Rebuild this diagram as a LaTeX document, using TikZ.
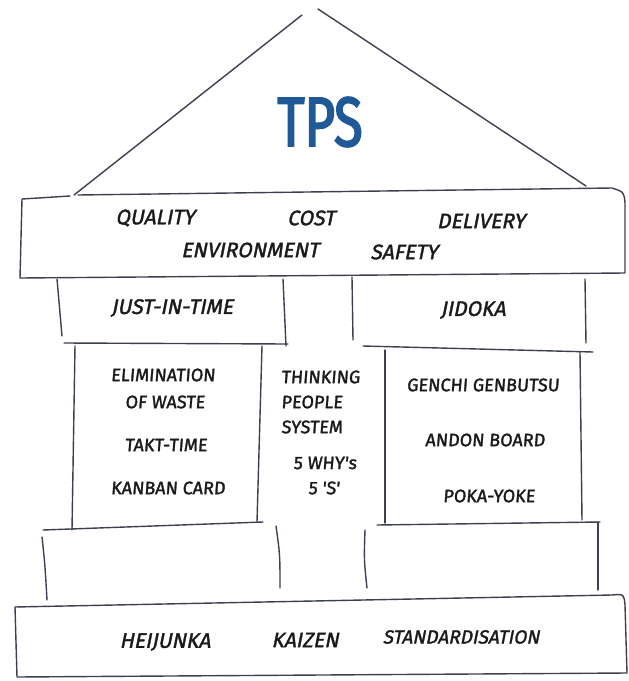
\documentclass[tikz,border=0pt]{standalone}
\usepackage{fontspec}
\newfontfamily\handslant[FakeSlant=0.2,FakeBold=1.6]{Fira Sans}
\newfontfamily\handup[FakeSlant=0.08,FakeBold=1.6]{Fira Sans}
\newfontfamily\tpsfont[FakeStretch=0.75,FakeBold=2.5]{Fira Sans}
\definecolor{ink}{HTML}{3C4152}
\definecolor{tpsblue}{HTML}{1F5A96}
\definecolor{textink}{HTML}{1A1A1A}
\tikzset{
  sketch/.style={draw=ink, line width=1.4pt, line cap=round, line join=round},
  beamtext/.style={inner sep=0pt, text=textink, font=\handslant\fontsize{21}{24}\selectfont},
  headtext/.style={inner sep=0pt, text=textink, font=\handslant\fontsize{21}{24}\selectfont},
  pillartext/.style={inner sep=0pt, text=textink, font=\handup\fontsize{18}{21}\selectfont},
  basetext/.style={inner sep=0pt, text=textink, font=\handslant\fontsize{21}{24}\selectfont},
}
\begin{document}
\begin{tikzpicture}[x=1pt,y=-1pt]
\useasboundingbox (0,0) rectangle (629,681);
% roof
\draw[sketch] (74,195) -- (302,15);
\draw[sketch] (318,9) -- (586,186);
% top beam
\draw[sketch] (70,196) -- (22,199) -- (20,278) -- (625,273) -- (625,203) .. controls (624,192) .. (612,188) -- (78,195);
% just-in-time box
\draw[sketch] (57,279) -- (62,336);
\draw[sketch] (283,279) -- (286,346);
\draw[sketch] (64,343) -- (288,344);
% jidoka box
\draw[sketch] (352,277) -- (353,340);
\draw[sketch] (585,279) -- (586,343);
\draw[sketch] (363,346) -- (593,352);
% left middle box
\draw[sketch] (75,346) -- (72,530);
\draw[sketch] (262,346) -- (257,522);
% right middle box
\draw[sketch] (385,350) -- (385,523);
\draw[sketch] (580,352) -- (582,520);
% left lower block
\draw[sketch] (43,530) -- (263,522);
\draw[sketch] (42,537) .. controls (45,565) .. (47,600);
\draw[sketch] (276,526) .. controls (280,555) .. (280,588);
% right lower block
\draw[sketch] (377,525) -- (600,522);
\draw[sketch] (365,530) .. controls (364,560) .. (367,588);
\draw[sketch] (598,522) -- (598,590);
% foundation
\draw[sketch] (15,607) -- (612,595) .. controls (624,594) .. (625,605) -- (627,673) -- (17,677) -- cycle;

% texts
\node[inner sep=0pt, text=tpsblue, font=\tpsfont\fontsize{70}{70}\selectfont] (tps) at (320,122) {TPS};
\node[beamtext] (quality) at (155,218) {QUALITY};
\node[beamtext] (cost) at (311,218) {COST};
\node[beamtext] (delivery) at (481,221) {DELIVERY};
\node[beamtext] (env) at (250,250) {ENVIRONMENT};
\node[beamtext] (safety) at (404,252) {SAFETY};
\node[headtext] (jit) at (172,308) {JUST-IN-TIME};
\node[headtext] (jidoka) at (473,310) {JIDOKA};
\node[pillartext] (elim) at (163,375) {ELIMINATION};
\node[pillartext] (waste) at (165,402) {OF WASTE};
\node[pillartext] (takt) at (166,445) {TAKT-TIME};
\node[pillartext] (kanban) at (168,488) {KANBAN CARD};
\node[pillartext, anchor=west] (think) at (281,377) {THINKING};
\node[pillartext, anchor=west] (people) at (281,402) {PEOPLE};
\node[pillartext, anchor=west] (system) at (281,427) {SYSTEM};
\node[pillartext] (why) at (325,463) {5 WHY's};
\node[pillartext] (fives) at (324,488) {5 'S'};
\node[pillartext] (genchi) at (483,385) {GENCHI GENBUTSU};
\node[pillartext] (andon) at (485,440) {ANDON BOARD};
\node[pillartext] (poka) at (489,496) {POKA-YOKE};
\node[basetext] (heijunka) at (165,642) {HEIJUNKA};
\node[basetext] (kaizen) at (305,640) {KAIZEN};
\node[basetext, font=\handslant\fontsize{19}{22}\selectfont] (std) at (461,637) {STANDARDISATION};
\end{tikzpicture}
\end{document}
